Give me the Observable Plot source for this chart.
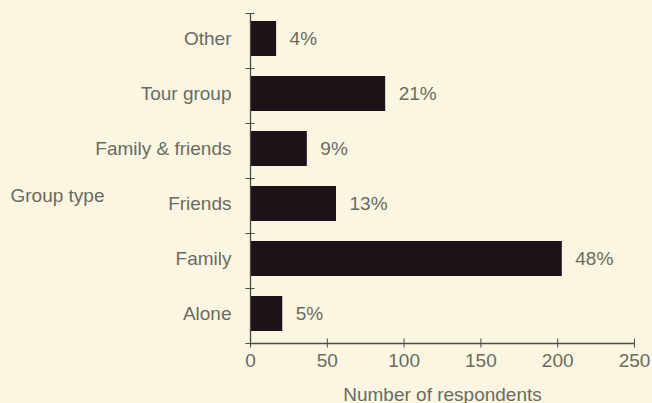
<!DOCTYPE html>
<html>
<head>
<meta charset="utf-8">
<script src="https://cdn.jsdelivr.net/npm/d3@7"></script>
<script src="https://cdn.jsdelivr.net/npm/@observablehq/plot@0.6"></script>
<style>
  html, body { margin: 0; padding: 0; background: #faf6e2; }
  #chart svg { display: block; }
</style>
</head>
<body>
<div id="chart"></div>
<script>
// Categories listed bottom to top
const categories = ["Alone", "Family", "Friends", "Family & friends", "Tour group", "Other"];
const respondents = [21, 203, 56, 37, 88, 17];
const percentLabels = ["5%", "48%", "13%", "9%", "21%", "4%"];
const xTicks = [0, 50, 100, 150, 200, 250];
const axisTitleX = "Number of respondents";
const axisTitleY = "Group type";

const rows = categories.map((c, i) => ({
  cat: c, value: respondents[i], pct: percentLabels[i],
  y1: i, y2: i + 1, mid: i + 0.5
}));

const textColor = "#6b6b60";
const lineColor = "#4d4d45";
const font = "'Liberation Sans', Arial, Helvetica, sans-serif";
const fs = 19;

const chart = Plot.plot({
  width: 652,
  height: 403,
  marginLeft: 250,
  marginRight: 18,
  marginTop: 13,
  marginBottom: 60,
  style: { background: "#faf6e2", fontFamily: font, fontSize: fs + "px", color: textColor },
  x: { domain: [0, 250] },
  y: { domain: [0, categories.length] },
  marks: [
    Plot.rectX(rows, { x: "value", y1: "y1", y2: "y2", insetTop: 8, insetBottom: 12, fill: "#1c1218" }),
    Plot.ruleX([0], { stroke: lineColor, strokeWidth: 1.3 }),
    Plot.ruleY([0], { stroke: lineColor, strokeWidth: 1.3 }),
    // y tick marks at category boundaries
    Plot.axisY({ ticks: d3.range(0, categories.length + 1), tickSize: 9, dx: 4.5, tickFormat: () => "", label: null, stroke: lineColor }),
    // y category labels
    Plot.axisY({ ticks: rows.map(d => d.mid), tickSize: 0, tickPadding: 19, dy: -2, tickFormat: v => categories[Math.floor(v)], label: null, fill: textColor, fontSize: fs }),
    // x tick marks crossing the axis
    Plot.axisX({ ticks: xTicks, tickSize: 9, dy: -4.5, tickFormat: () => "", label: null, stroke: lineColor }),
    // x tick labels and title
    Plot.axisX({ ticks: xTicks, tickSize: 0, tickPadding: 10, tickFormat: d3.format("d"), fill: textColor, fontSize: fs,
      label: axisTitleX, labelAnchor: "center", labelArrow: "none", labelOffset: 57 }),
    Plot.text(rows, { x: "value", y: "mid", text: "pct", dx: 13, dy: -2, textAnchor: "start", fill: textColor, fontSize: fs }),
    Plot.text([axisTitleY], { text: d => d, frameAnchor: "left", dx: -240, dy: 17, textAnchor: "start", fill: textColor, fontSize: fs })
  ]
});
document.getElementById("chart").appendChild(chart);
</script>
</body>
</html>
